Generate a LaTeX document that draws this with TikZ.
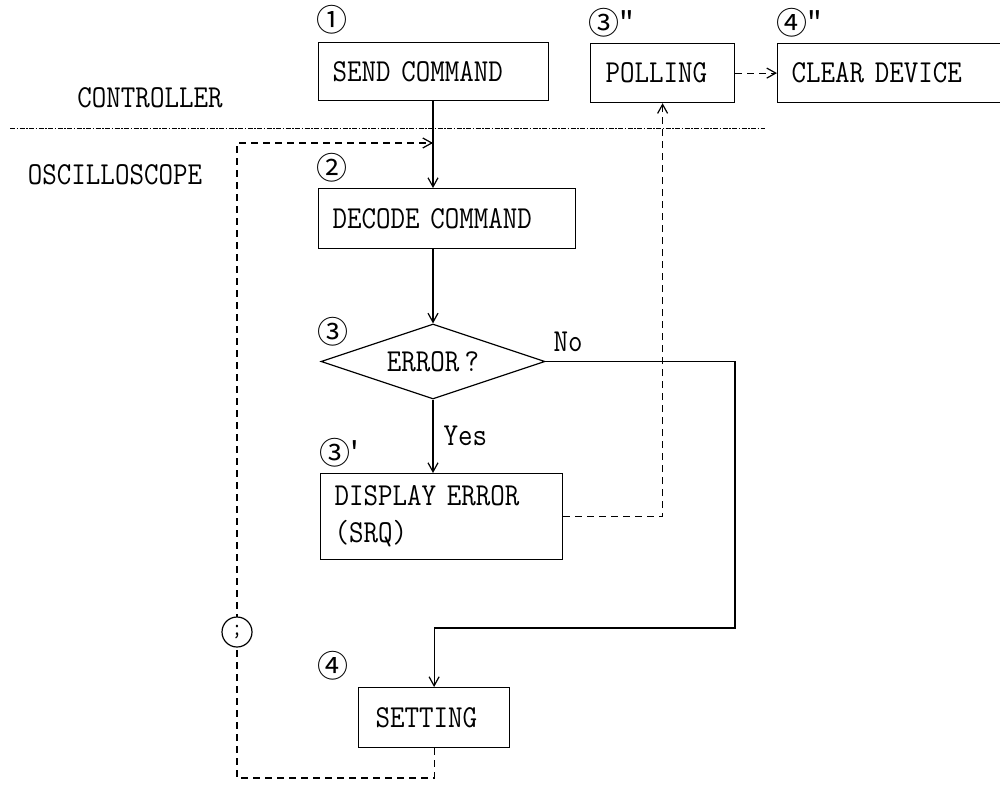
\documentclass[tikz,border=0pt]{standalone}
\usepackage{fontspec}
\usetikzlibrary{shapes.geometric,arrows.meta}
\newfontfamily\circfont{Noto Sans CJK JP}
\newfontfamily\mono[FakeStretch=0.88]{Latin Modern Mono}
\begin{document}
\begin{tikzpicture}[x=1pt,y=-1pt,
  txt/.style={font=\mono\fontsize{32}{37}\selectfont},
  box/.style={txt,draw,line width=1.2pt,anchor=north west,align=left,inner ysep=0pt,inner xsep=14pt},
  num/.style={font=\circfont\fontsize{31}{31}\selectfont,inner sep=0pt},
  ln/.style={line width=1.2pt},
  dsh/.style={line width=1.2pt,dash pattern=on 7pt off 5pt},
  arr/.style={-{Straight Barb[length=9pt,width=10pt]}},
  sepline/.style={line width=1pt,dash pattern=on 5pt off 1.5pt on 1.5pt off 1.5pt},
  lab/.style={txt,inner sep=0pt}]
\useasboundingbox (0,0) rectangle (1000,787);
\fill[white] (0,0) rectangle (1000,787);

% labels
\node[lab] (ctl) at (150,98) {CONTROLLER};
\node[lab] (osc) at (115,175) {OSCILLOSCOPE};
\coordinate (sepL) at (10,128);
\coordinate (sepR) at (765,128);
\draw[sepline] (sepL) -- (sepR);

% boxes
\node[box,text width=202pt,minimum height=58pt] (send) at (318,42) {SEND COMMAND};
\node[box,text width=114pt,minimum height=59pt,inner xsep=15pt] (poll) at (590,43) {POLLING};
\node[box,text width=232pt,minimum height=59pt] (clear) at (777,43) {CLEAR DEVICE};
\node[box,text width=229pt,minimum height=60pt] (dec) at (318,188) {DECODE COMMAND};
\node[txt,draw,line width=1.2pt,diamond,aspect=3,minimum width=224pt,minimum height=75pt,inner sep=0pt] (dia) at (433,361.5) {ERROR\,?};
\node[box,text width=214pt,minimum height=86pt] (err) at (320,473) {DISPLAY ERROR\\(SRQ)};
\node[box,text width=117pt,minimum height=60pt,inner xsep=17pt] (set) at (358,687) {SETTING};

% step numbers
\node[num] (n1) at (332,20) {①};
\node[num,anchor=west] (n3pp) at (588,23) {③"};
\node[num,anchor=west] (n4pp) at (776,23) {④"};
\node[num] (n2) at (332,168) {②};
\node[num] (n3) at (333,332) {③};
\node[num,anchor=west] (n3p) at (319,453) {③'};
\node[num] (n4) at (333,666) {④};

% connectors
\coordinate (mainx) at (433,0);
\coordinate (join) at (433,143);
\draw[ln,arr] (send.south -| mainx) -- (dec.north -| mainx);
\draw[ln,arr] (dec.south -| dia.north) -- (dia.north);
\draw[ln,arr] (dia.south) -- node[lab,anchor=west,xshift=10pt]{Yes} (dia.south |- err.north);
\coordinate (nr) at (735,628);
\draw[ln,arr] (dia.east) -| (nr) -| (set.north);
\node[lab] (no) at (568,342) {No};
\draw[dsh,arr] (err.east) -| (poll.south);
\draw[dsh,arr] (poll.east) -- (clear.west);
\coordinate (bl) at (237,778);
\draw[dsh,arr] (set.south) |- (bl) |- (join);
\node[txt,circle,draw,line width=1.2pt,fill=white,minimum size=30pt,inner sep=0pt,font=\mono\fontsize{24}{24}\selectfont] (semi) at (237,632) {;};
\end{tikzpicture}
\end{document}
